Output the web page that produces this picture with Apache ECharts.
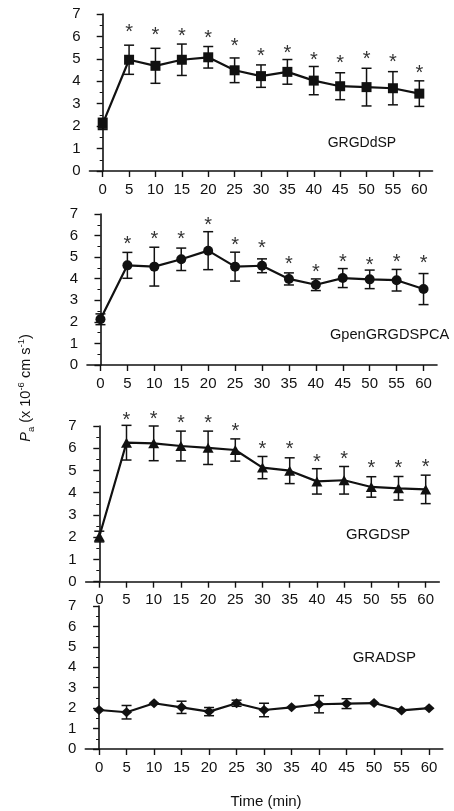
<!DOCTYPE html>
<html>
<head>
<meta charset="utf-8">
<script src="https://cdn.jsdelivr.net/npm/echarts@6/dist/echarts.min.js"></script>
<style>
html,body{margin:0;padding:0;background:#fff;}
#c{width:454px;height:811px;}
</style>
</head>
<body>
<div id="c"></div>
<script>
const time = [0, 5, 10, 15, 20, 25, 30, 35, 40, 45, 50, 55, 60];
const xTicks = [0, 5, 10, 15, 20, 25, 30, 35, 40, 45, 50, 55, 60];
const yTicks = [0, 1, 2, 3, 4, 5, 6, 7];

const labels = ['GRGDdSP', 'GpenGRGDSPCA', 'GRGDSP', 'GRADSP'];

const p1Mean = [2.1, 4.96, 4.69, 4.96, 5.07, 4.49, 4.23, 4.42, 4.03, 3.78, 3.74, 3.69, 3.45];
const p1Err  = [0.25, 0.65, 0.78, 0.7, 0.48, 0.55, 0.5, 0.55, 0.63, 0.6, 0.84, 0.74, 0.57];
const p1Star = [null, 6.38, 6.26, 6.22, 6.15, 5.77, 5.31, 5.48, 5.13, 5.01, 5.21, 5.07, 4.55];

const p2Mean = [2.12, 4.62, 4.56, 4.9, 5.3, 4.56, 4.6, 3.99, 3.72, 4.03, 3.97, 3.93, 3.52];
const p2Err  = [0.25, 0.6, 0.9, 0.52, 0.88, 0.67, 0.32, 0.28, 0.27, 0.44, 0.43, 0.5, 0.72];
const p2Star = [null, 5.8, 6.07, 6.03, 6.72, 5.78, 5.61, 4.9, 4.54, 5.0, 4.85, 5.0, 4.95];

const p3Mean = [2.03, 6.25, 6.22, 6.1, 6.02, 5.92, 5.13, 4.99, 4.51, 4.56, 4.26, 4.2, 4.15];
const p3Err  = [0.24, 0.78, 0.78, 0.67, 0.75, 0.5, 0.5, 0.58, 0.57, 0.62, 0.46, 0.53, 0.64];
const p3Star = [null, 7.46, 7.54, 7.36, 7.35, 7.0, 6.19, 6.19, 5.6, 5.73, 5.32, 5.32, 5.37];

const p4Mean = [1.91, 1.8, 2.24, 2.04, 1.83, 2.24, 1.91, 2.04, 2.19, 2.22, 2.25, 1.89, 2.0];
const p4Err  = [0, 0.33, 0, 0.3, 0.2, 0.15, 0.33, 0, 0.42, 0.24, 0, 0, 0];
const p4Star = [null, null, null, null, null, null, null, null, null, null, null, null, null];

const panels = [
  {mean: p1Mean, err: p1Err, star: p1Star, symbol: 'rect', size: [10, 10], label: labels[0]},
  {mean: p2Mean, err: p2Err, star: p2Star, symbol: 'circle', size: [10, 10], label: labels[1]},
  {mean: p3Mean, err: p3Err, star: p3Star, symbol: 'triangle', size: [11, 10], label: labels[2]},
  {mean: p4Mean, err: p4Err, star: p4Star, symbol: 'diamond', size: [11, 10], label: labels[3]}
];

// layout (pixels)
const grids = [
  {left: 89.5, top: 14, width: 343, height: 157},
  {left: 87, top: 214, width: 350, height: 151},
  {left: 85.7, top: 426, width: 353.6, height: 155.7},
  {left: 85.3, top: 606, width: 357.5, height: 143}
];
const labelPos = [
  {x: 327.7, y: 143.3, fs: 14},
  {x: 330, y: 335, fs: 14.6},
  {x: 346, y: 535, fs: 14.8},
  {x: 352.7, y: 658.3, fs: 15}
];

const INK = '#111';
const FONT = 'Liberation Sans, Arial, Helvetica, sans-serif';

const xAxes = [], yAxes = [], series = [], graphics = [];
panels.forEach((p, i) => {
  xAxes.push({
    type: 'value', gridIndex: i, min: -2.5, max: 62.5,
    axisLine: {show: true, onZero: false, lineStyle: {color: INK, width: 1.6}},
    axisTick: {show: true, length: 6, customValues: xTicks, lineStyle: {color: INK, width: 1.4}},
    axisLabel: {show: true, customValues: xTicks, margin: 11, color: INK, fontSize: 15, fontFamily: FONT},
    splitLine: {show: false}
  });
  yAxes.push({
    type: 'value', gridIndex: i, min: 0, max: 7, interval: 1,
    axisLine: {show: true, lineStyle: {color: INK, width: 1.6}},
    axisTick: {show: true, length: 6, lineStyle: {color: INK, width: 1.4}},
    minorTick: {show: true, splitNumber: 2, length: 3, lineStyle: {color: INK, width: 1}},
    axisLabel: {show: true, margin: 9, color: INK, fontSize: 15, fontFamily: FONT},
    splitLine: {show: false}
  });
  // error bars
  series.push({
    type: 'custom', xAxisIndex: i, yAxisIndex: i, z: 2,
    data: time.map((t, k) => [t, p.mean[k] - p.err[k], p.mean[k] + p.err[k], p.err[k]]),
    renderItem: function (params, api) {
      if (api.value(3) <= 0) return null;
      const lo = api.coord([api.value(0), api.value(1)]);
      const hi = api.coord([api.value(0), api.value(2)]);
      const hw = 5;
      const st = {stroke: INK, lineWidth: 1.5};
      return {type: 'group', children: [
        {type: 'line', shape: {x1: lo[0], y1: lo[1], x2: hi[0], y2: hi[1]}, style: st},
        {type: 'line', shape: {x1: lo[0] - hw, y1: lo[1], x2: lo[0] + hw, y2: lo[1]}, style: st},
        {type: 'line', shape: {x1: hi[0] - hw, y1: hi[1], x2: hi[0] + hw, y2: hi[1]}, style: st}
      ]};
    }
  });
  // mean line
  series.push({
    type: 'line', xAxisIndex: i, yAxisIndex: i, z: 3,
    data: time.map((t, k) => [t, p.mean[k]]),
    symbol: p.symbol, symbolSize: p.size, showSymbol: true,
    lineStyle: {color: INK, width: 2.2},
    itemStyle: {color: INK, borderWidth: 0},
    animation: false
  });
  // significance asterisks
  series.push({
    type: 'custom', xAxisIndex: i, yAxisIndex: i, z: 4,
    data: time.map((t, k) => [t, p.star[k]]).filter(d => d[1] !== null),
    renderItem: function (params, api) {
      const c = api.coord([api.value(0), api.value(1)]);
      return {type: 'text', x: c[0], y: c[1] + 5,
        style: {text: '*', fill: '#333', font: '20px ' + FONT, align: 'center', verticalAlign: 'middle'}};
    }
  });
  graphics.push({
    type: 'text', left: labelPos[i].x, top: labelPos[i].y - labelPos[i].fs / 2,
    style: {text: p.label, fill: INK, font: labelPos[i].fs + 'px ' + FONT}
  });
});

graphics.push({
  type: 'text', x: 26, y: 388, rotation: Math.PI / 2,
  style: {
    text: '{i|P}{sub|a}{n| (x 10}{sup|-6}{n| cm s}{sup|-1}{n|)}',
    align: 'center', verticalAlign: 'middle',
    rich: {
      i: {fontSize: 14.5, fontStyle: 'italic', fontFamily: FONT, fill: INK, lineHeight: 20, verticalAlign: 'middle'},
      n: {fontSize: 14.5, fontFamily: FONT, fill: INK, lineHeight: 20, verticalAlign: 'middle'},
      sup: {fontSize: 9.5, fontFamily: FONT, fill: INK, lineHeight: 12, verticalAlign: 'top'},
      sub: {fontSize: 9.5, fontFamily: FONT, fill: INK, lineHeight: 14, verticalAlign: 'bottom'}
    }
  }
});
graphics.push({
  type: 'text', x: 266, y: 802,
  style: {text: 'Time (min)', fill: INK, font: '15px ' + FONT, align: 'center', verticalAlign: 'middle'}
});

const chart = echarts.init(document.getElementById('c'), null, {renderer: 'canvas'});
chart.setOption({
  backgroundColor: '#fff',
  animation: false,
  grid: grids.map(g => Object.assign({containLabel: false}, g)),
  xAxis: xAxes,
  yAxis: yAxes,
  series: series,
  graphic: graphics
});
</script>
</body>
</html>
